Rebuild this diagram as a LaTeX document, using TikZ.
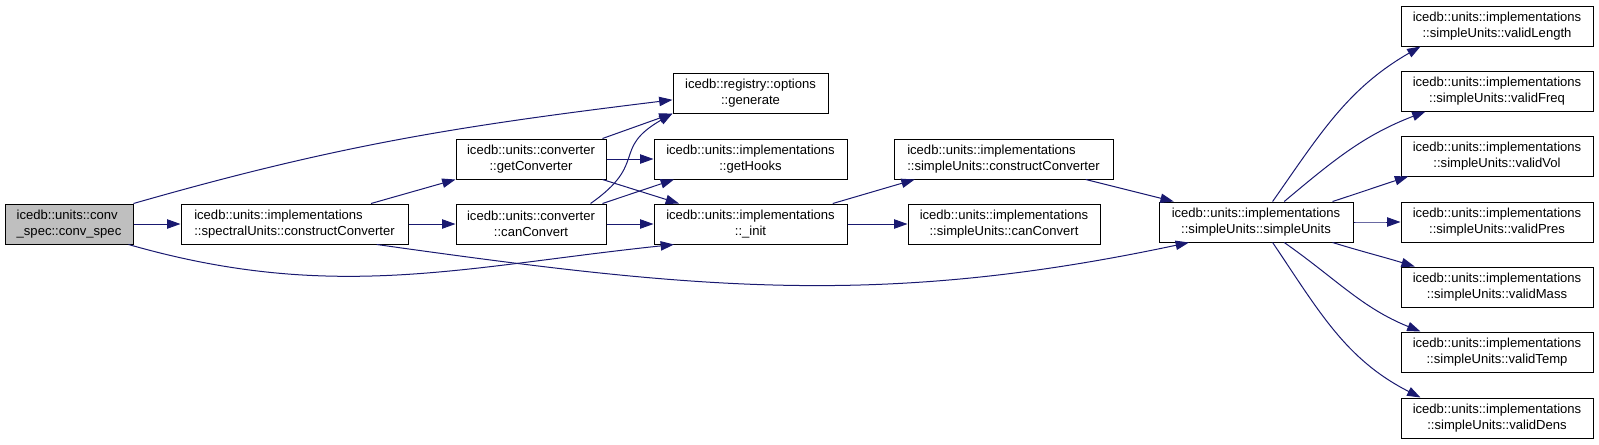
\documentclass[tikz,border=0pt]{standalone}
\usepackage{fontspec}
\setmainfont{Liberation Sans}
\usetikzlibrary{arrows.meta, positioning}
\definecolor{edgeblue}{HTML}{191970}
\definecolor{rootgray}{HTML}{BFBFBF}

\begin{document}
\begin{tikzpicture}[x=0.75pt, y=-0.75pt,
    fn/.style={draw=black, fill=white, line width=0.75pt, minimum height=30pt, inner sep=0pt, align=center, font=\fontsize{9.8}{12}\selectfont},
    call/.style={draw=edgeblue, line width=0.75pt, -{Triangle[length=10pt, width=7pt]}}]
    \useasboundingbox (0,0) rectangle (1599,444);

    % Caller
    \node[fn, fill=rootgray, minimum width=96pt, align=left] (convspec) at (69,224) {icedb::units::conv\\\_spec::conv\_spec};
    \node[fn, minimum width=170.25pt, align=left] (spectral) at (294.5,224) {icedb::units::implementations\\::spectralUnits::constructConverter};

    % Converter helpers
    \node[fn, minimum width=116.25pt] (generate) at (750.5,93) {icedb::registry::options\\::generate};
    \node[fn, minimum width=112.5pt] (getconv) at (531,159) {icedb::units::converter\\::getConverter};
    \node[fn, minimum width=112.5pt] (canconv) at (531,224) {icedb::units::converter\\::canConvert};
    \node[fn, minimum width=144.75pt] (gethooks) at (750.5,159) {icedb::units::implementations\\::getHooks};
    \node[fn, minimum width=144.75pt] (init) at (750.5,224) {icedb::units::implementations\\::\_init};

    % simpleUnits
    \node[fn, minimum width=164.25pt, align=left] (sconstruct) at (1003.5,159) {icedb::units::implementations\\::simpleUnits::constructConverter};
    \node[fn, minimum width=144pt] (scanconv) at (1004,224) {icedb::units::implementations\\::simpleUnits::canConvert};
    \node[fn, minimum width=145.5pt] (simple) at (1256,222) {icedb::units::implementations\\::simpleUnits::simpleUnits};

    % Validators
    \foreach \nm/\yy in {Length/26, Freq/91, Vol/156, Pres/222, Mass/287, Temp/352, Dens/418}
        \node[fn, minimum width=144pt] (valid\nm) at (1497,\yy) {icedb::units::implementations\\::simpleUnits::valid\nm};

    % Calls
    \draw[call] (convspec.north east) to[out=16, in=187] (generate.185);
    \draw[call] (convspec) -- (spectral);
    \draw[call] (convspec.-19) to[out=-16, in=186] (init.195);
    \draw[call] (spectral.15) -- (getconv.south west);
    \draw[call] (spectral) -- (canconv);
    \draw[call] (spectral.-14) to[out=-8, in=192] (simple.197);
    \draw[call] (getconv.16) -- (generate.south west);
    \draw[call] (getconv) -- (gethooks);
    \draw[call] (getconv.-16) -- (init.164);
    \draw[call] (canconv.19) to[out=35, in=210, looseness=1.5] (generate.south west);
    \draw[call] (canconv.16) -- (gethooks.195);
    \draw[call] (canconv) -- (init);
    \draw[call] (init.14) -- (sconstruct.193);
    \draw[call] (init) -- (scanconv);
    \draw[call] (sconstruct.-14) -- (simple.166);
    \foreach \nm/\sa/\so/\si/\ta in {Length/51/55/210/195, Freq/36/40/201/196, Vol/15/18/198/193, Pres/0/0/180/180, Mass/-15/-17/163/166, Temp/-36/-35/158/165, Dens/-51/-56/153/165}
        \draw[call] (simple.\sa) to[out=\so, in=\si] (valid\nm.\ta);
\end{tikzpicture}
\end{document}
